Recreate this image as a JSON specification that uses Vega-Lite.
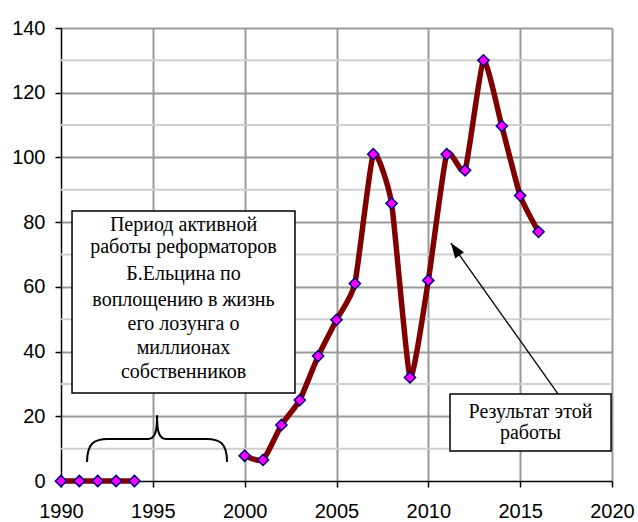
{
  "$schema": "https://vega.github.io/schema/vega-lite/v6.json",
  "width": 551,
  "height": 453,
  "autosize": {"type": "none"},
  "padding": {"left": 61, "top": 28, "right": 26, "bottom": 41},
  "background": "white",
  "config": {
    "view": {"stroke": null},
    "axis": {
      "domainColor": "black",
      "domainWidth": 1.5,
      "tickColor": "black",
      "tickWidth": 1.5,
      "tickSize": 6,
      "labelFont": "Liberation Sans",
      "labelFontSize": 20,
      "labelColor": "black",
      "gridColor": "#9a9a9a",
      "gridWidth": 2,
      "title": null
    }
  },
  "datasets": {
    "series": [
      {"year": 1990, "value": 0, "seg": "a"},
      {"year": 1991, "value": 0, "seg": "a"},
      {"year": 1992, "value": 0, "seg": "a"},
      {"year": 1993, "value": 0, "seg": "a"},
      {"year": 1994, "value": 0, "seg": "a"},
      {"year": 2000, "value": 7.8, "seg": "b"},
      {"year": 2001, "value": 6.5, "seg": "b"},
      {"year": 2002, "value": 17.3, "seg": "b"},
      {"year": 2003, "value": 25, "seg": "b"},
      {"year": 2004, "value": 38.6, "seg": "b"},
      {"year": 2005, "value": 49.8, "seg": "b"},
      {"year": 2006, "value": 61, "seg": "b"},
      {"year": 2007, "value": 101, "seg": "b"},
      {"year": 2008, "value": 85.8, "seg": "b"},
      {"year": 2009, "value": 32, "seg": "b"},
      {"year": 2010, "value": 62, "seg": "b"},
      {"year": 2011, "value": 101, "seg": "b"},
      {"year": 2012, "value": 96, "seg": "b"},
      {"year": 2013, "value": 130, "seg": "b"},
      {"year": 2014, "value": 109.7, "seg": "b"},
      {"year": 2015, "value": 88.2, "seg": "b"},
      {"year": 2016, "value": 77, "seg": "b"}
    ],
    "minor": [
      {"v": 10}, {"v": 30}, {"v": 50}, {"v": 70}, {"v": 90}, {"v": 110}, {"v": 130}
    ],
    "boxes": [
      {"x1": 1990.6, "x2": 2002.74, "y1": 83.44, "y2": 27.2},
      {"x1": 2011.18, "x2": 2019.95, "y1": 26.89, "y2": 9.27}
    ],
    "labels": [
      {"x": 1996.67, "y": 79.12, "t": "Период активной"},
      {"x": 1996.67, "y": 72.32, "t": "работы реформаторов"},
      {"x": 1996.67, "y": 63.97, "t": "Б.Ельцина по"},
      {"x": 1996.67, "y": 56.09, "t": "воплощению в жизнь"},
      {"x": 1996.67, "y": 48.52, "t": "его лозунга  о"},
      {"x": 1996.67, "y": 41.1, "t": "миллионах"},
      {"x": 1996.67, "y": 33.69, "t": "собственников"},
      {"x": 2015.56, "y": 21.32, "t": "Результат этой"},
      {"x": 2015.56, "y": 14.83, "t": "работы"}
    ],
    "arrow": [
      {"x1": 2017.06, "y1": 26.89, "x2": 2011.23, "y2": 73.55}
    ],
    "brace": [
      {"x": 1995.23, "y": 12.98}
    ]
  },
  "encoding": {
    "x": {"type": "quantitative"},
    "y": {"type": "quantitative"}
  },
  "layer": [
    {
      "data": {"name": "minor"},
      "mark": {"type": "rule", "color": "#cfcfcf", "strokeWidth": 2},
      "encoding": {
        "y": {"field": "v", "type": "quantitative", "scale": {"domain": [0, 140], "nice": false, "zero": true}}
      }
    },
    {
      "data": {"name": "series"},
      "mark": {"type": "line", "color": "#800000", "strokeWidth": 5.5, "interpolate": "cardinal", "tension": 0.5},
      "encoding": {
        "x": {
          "field": "year",
          "type": "quantitative",
          "scale": {"domain": [1990, 2020], "nice": false, "zero": false},
          "axis": {
            "values": [1990, 1995, 2000, 2005, 2010, 2015, 2020],
            "format": "d",
            "labelPadding": 14,
            "labelFlush": false,
            "grid": true,
            "gridColor": {"condition": {"test": "datum.value === 1990", "value": "transparent"}, "value": "#9a9a9a"}
          }
        },
        "y": {
          "field": "value",
          "type": "quantitative",
          "scale": {"domain": [0, 140], "nice": false},
          "axis": {
            "values": [0, 20, 40, 60, 80, 100, 120, 140],
            "labelPadding": 10,
            "grid": true,
            "gridColor": {"condition": {"test": "datum.value === 0", "value": "transparent"}, "value": "#9a9a9a"}
          }
        },
        "detail": {"field": "seg"}
      }
    },
    {
      "data": {"name": "series"},
      "mark": {"type": "point", "shape": "diamond", "filled": true, "fill": "#ff00ff", "stroke": "#000080", "strokeWidth": 1.5, "size": 125, "opacity": 1},
      "encoding": {
        "x": {"field": "year", "type": "quantitative"},
        "y": {"field": "value", "type": "quantitative"}
      }
    },
    {
      "data": {"name": "boxes"},
      "mark": {"type": "rect", "fill": "white", "stroke": "black", "strokeWidth": 1.5},
      "encoding": {
        "x": {"field": "x1", "type": "quantitative"},
        "x2": {"field": "x2"},
        "y": {"field": "y1", "type": "quantitative"},
        "y2": {"field": "y2"}
      }
    },
    {
      "data": {"name": "labels"},
      "mark": {"type": "text", "font": "Liberation Serif", "fontSize": 20, "align": "center", "baseline": "middle", "color": "black"},
      "encoding": {
        "x": {"field": "x", "type": "quantitative"},
        "y": {"field": "y", "type": "quantitative"},
        "text": {"field": "t"}
      }
    },
    {
      "data": {"name": "arrow"},
      "mark": {"type": "rule", "color": "black", "strokeWidth": 1.3},
      "encoding": {
        "x": {"field": "x1", "type": "quantitative"},
        "y": {"field": "y1", "type": "quantitative"},
        "x2": {"field": "x2"},
        "y2": {"field": "y2"}
      }
    },
    {
      "data": {"name": "arrow"},
      "mark": {"type": "point", "shape": "M0,0 L-0.36,1 L0.36,1 Z", "filled": true, "color": "black", "size": 900, "angle": 324.7, "opacity": 1},
      "encoding": {
        "x": {"field": "x2", "type": "quantitative"},
        "y": {"field": "y2", "type": "quantitative"}
      }
    },
    {
      "data": {"name": "brace"},
      "mark": {"type": "point", "shape": "M-1,0.33 C-1,0.06 -0.9,0 -0.7,0 L-0.13,0 C-0.03,0 0,-0.1 0,-0.34 C0,-0.1 0.03,0 0.13,0 L0.7,0 C0.9,0 1,0.06 1,0.33", "filled": false, "stroke": "black", "strokeWidth": 2, "size": 19600, "opacity": 1},
      "encoding": {
        "x": {"field": "x", "type": "quantitative"},
        "y": {"field": "y", "type": "quantitative"}
      }
    }
  ]
}
